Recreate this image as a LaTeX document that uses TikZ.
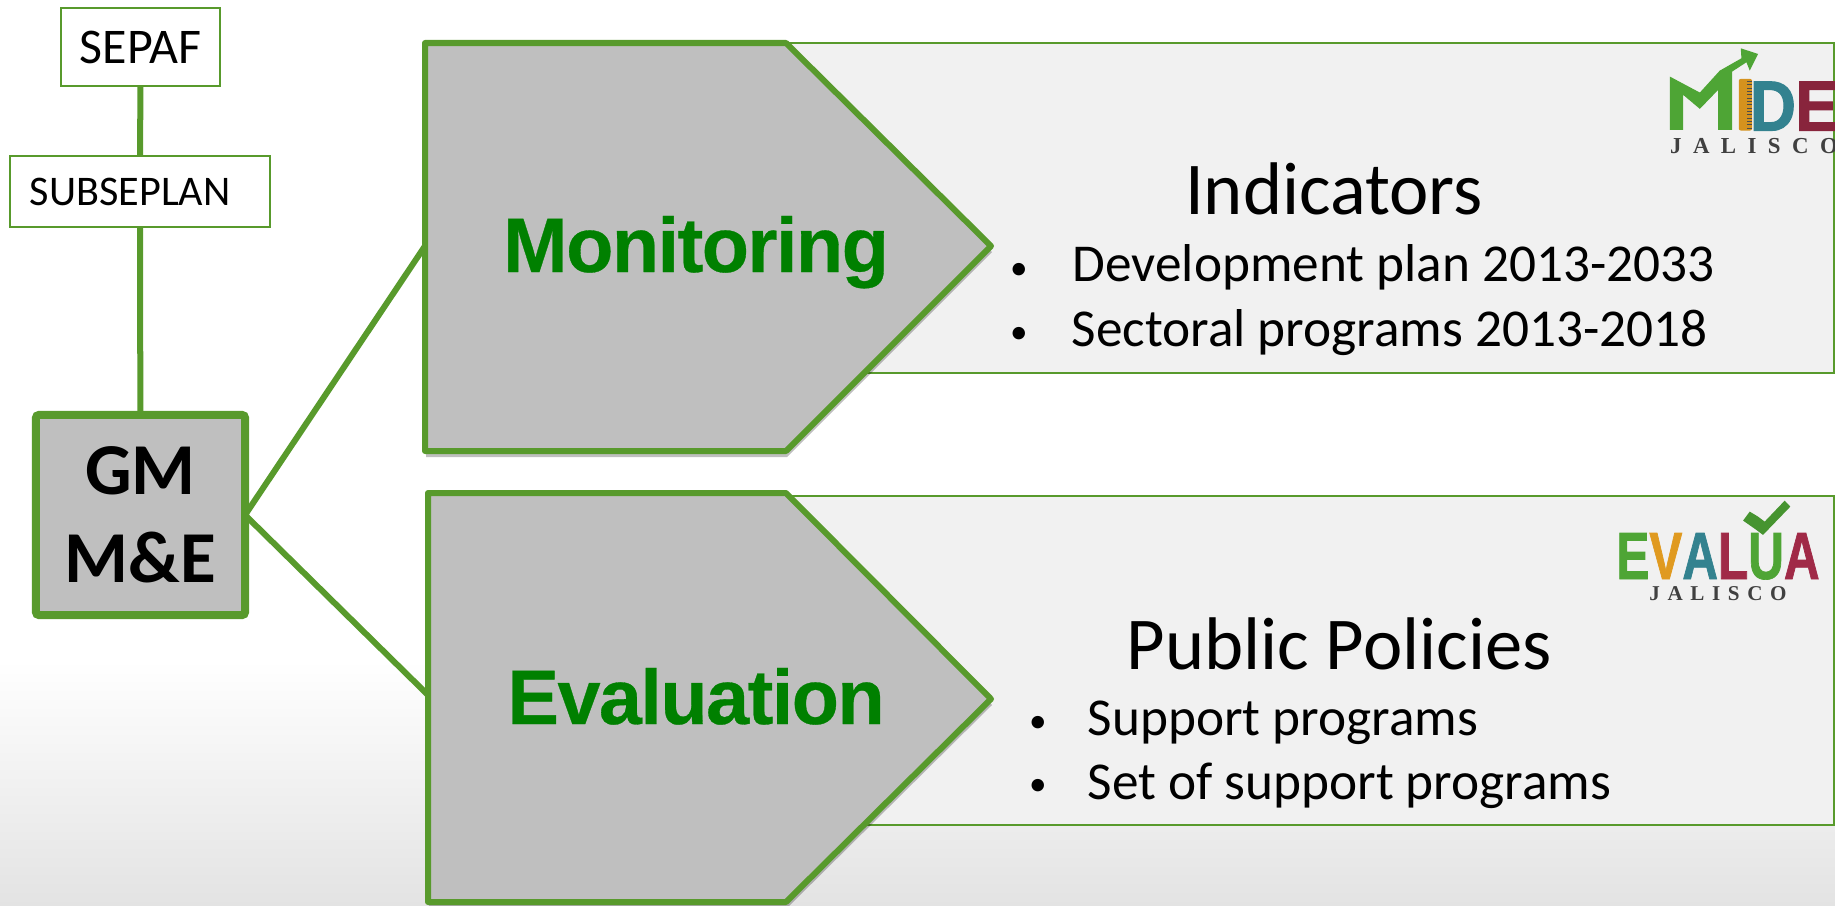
\documentclass[tikz,border=0pt]{standalone}
\usepackage{fontspec}
\setmainfont{Carlito}
\newfontfamily\headfont[LetterSpace=-2,BoldFeatures={FakeBold=0.4}]{Liberation Sans}
\newfontfamily\logofont[FakeStretch=0.9,BoldFeatures={FakeBold=1.5}]{Liberation Sans}
\newfontfamily\evafont[FakeStretch=0.74,LetterSpace=-5.5,BoldFeatures={FakeBold=1}]{Liberation Sans}
\newfontfamily\placefont[LetterSpace=50]{Liberation Serif}
\newfontfamily\evaplacefont[LetterSpace=36]{Liberation Serif}
\usetikzlibrary{shadows}
\definecolor{leaf}{HTML}{589A2C}
\definecolor{panelgray}{HTML}{F1F1F1}
\definecolor{boxgray}{HTML}{BFBFBF}
\definecolor{headgreen}{HTML}{008000}
\definecolor{logogreen}{HTML}{4EA535}
\definecolor{logoorange}{HTML}{E09A20}
\definecolor{logoteal}{HTML}{33828F}
\definecolor{logored}{HTML}{A02A47}
\begin{document}
\begin{tikzpicture}[x=0.01cm,y=-0.01cm,
  small node/.style={rectangle,draw=leaf,fill=white,line width=.2mm,inner sep=0pt},
  gm node/.style={rectangle,draw=leaf,fill=boxgray,line width=.8mm,rounded corners=.3mm,outer sep=0pt,minimum width=2.09cm,minimum height=2cm,inner sep=0pt,align=center,font=\fontsize{20.8}{25}\selectfont\bfseries},
  arrow box/.style={draw=leaf,fill=boxgray,line width=.6mm,line join=round,drop shadow={shadow xshift=.01cm,shadow yshift=-.06cm,opacity=.25,fill=black}},
  panel box/.style={draw=leaf,fill=panelgray,line width=.2mm},
  link/.style={draw=leaf,line width=.6mm},
  head node/.style={anchor=base,font=\headfont\fontsize{22}{26}\selectfont\bfseries,text=headgreen},
  title node/.style={anchor=base,font=\fontsize{21.2}{25}\selectfont},
  item node/.style={anchor=base west,font=\fontsize{15.15}{18}\selectfont,inner sep=0pt},
  dot node/.style={anchor=base,font=\fontsize{10}{12}\selectfont,inner sep=0pt},
  place node/.style={anchor=base,inner sep=0pt,font=\placefont\fontsize{6.5}{7}\selectfont\bfseries,text=black!75}]
\useasboundingbox (0,0) rectangle (1835,906);
\fill[white] (0,0) rectangle (1835,660);
\shade[top color=white,bottom color=black!11] (0,660) rectangle (1835,906);
%panels behind the arrows
\path[panel box] (700,43) rectangle (1834,373);
\path[panel box] (700,496) rectangle (1834,825);
\path[arrow box] (425,43) -- (786,43) -- (991,246) -- (786,451) -- (425,451) -- cycle;
\path[arrow box] (428,493) -- (786,493) -- (991,699) -- (786,902) -- (428,902) -- cycle;
\coordinate (monw) at (425,246);
\coordinate (evaw) at (428,695);
\begin{scope}
\node[small node,minimum width=1.59cm,minimum height=.78cm,font=\fontsize{14.2}{17}\selectfont] (sepaf) at (140.5,47) {SEPAF};
\node[small node,text width=2.2cm,inner xsep=.2cm,minimum height=.71cm,align=left,font=\fontsize{12}{14}\selectfont] (subseplan) at (140,191.5) {SUBSEPLAN};
\node[gm node] (gm) at (140.5,515) {GM\\M\&E};
\end{scope}
\begin{scope}[every edge/.style={link}]
\draw (sepaf) edge (subseplan);
\draw (subseplan) edge (gm);
\draw (gm.east) edge (monw);
\draw (gm.east) edge (evaw);
\end{scope}
\node[head node] (monitoring) at (696,272) {Monitoring};
\node[head node] (evaluation) at (696,724) {Evaluation};
\node[title node] (indicators) at (1334,215) {Indicators};
\node[title node] (policies) at (1339,669) {Public Policies};
\node[dot node] (dot1) at (1019,279) {•};
\node[item node] (plan) at (1072,281) {Development plan 2013-2033};
\node[dot node] (dot2) at (1019,343) {•};
\node[item node] (sector) at (1071,346) {Sectoral programs 2013-2018};
\node[dot node] (dot3) at (1038,732) {•};
\node[item node] (support) at (1087,735) {Support programs};
\node[dot node] (dot4) at (1038,795) {•};
\node[item node] (setof) at (1087,799) {Set of support programs};
%first logo
\begin{scope}[shift={(1600,30)},x=.00333cm,y=-.00333cm]
\fill[logogreen] (210,140) -- (300,188) -- (360,122) -- (425,85) -- (423,55) -- (475,72) -- (450,122) -- (440,97) -- (397,125) -- (397,300) -- (355,300) -- (355,180) -- (300,237) -- (250,195) -- (250,300) -- (210,300) -- cycle;
\fill[logoorange!95!black,rounded corners=.2mm] (417,147) rectangle (457,302);
\foreach \tick in {155,165,...,295}
  \draw[black!70,line width=.1mm] (442,\tick) -- (457,\tick);
\node[anchor=base west,inner sep=0pt,font=\logofont\fontsize{20.2}{22}\selectfont\bfseries,text=logoteal] (mided) at (448,302) {D};
\node[anchor=base west,inner sep=0pt,font=\logofont\fontsize{20.2}{22}\selectfont\bfseries,text=logored!85!black] (midee) at (585,302) {E};
\end{scope}
\node[place node] (midejal) at (1754,153) {JALISCO};
%second logo
\node[anchor=base,inner sep=0pt,font=\evafont\fontsize{19}{21}\selectfont\bfseries] (evalua) at (1718,579) {\textcolor{logogreen}{E}\textcolor{logoorange}{V}\textcolor{logoteal}{A}\textcolor{logored}{L}\textcolor{logogreen}{U}\textcolor{logored}{A}};
\begin{scope}[shift={(1580,480)},x=.00333cm,y=-.00333cm]
\fill[logogreen!90!black] (490,122) -- (510,95) -- (535,110) -- (555,125) -- (615,62) -- (632,80) -- (550,165) -- (530,150) -- cycle;
\end{scope}
\node[anchor=base,inner sep=0pt,font=\evaplacefont\fontsize{6}{7}\selectfont\bfseries,text=black!75] (evajal) at (1718,600) {JALISCO};
\end{tikzpicture}
\end{document}
